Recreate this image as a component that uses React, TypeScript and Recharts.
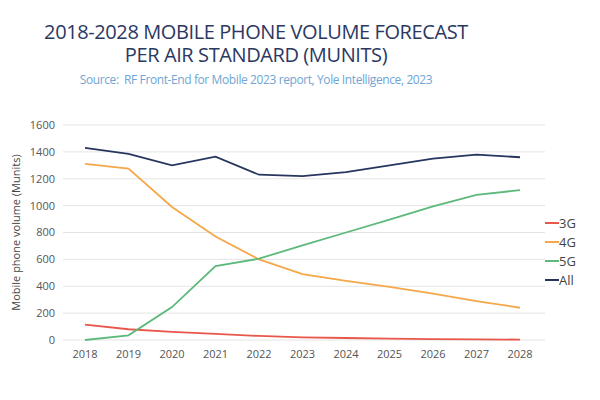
import { LineChart, Line, XAxis, YAxis, CartesianGrid, Legend } from "recharts";

const years = ["2018", "2019", "2020", "2021", "2022", "2023", "2024", "2025", "2026", "2027", "2028"];
const g3 = [115, 80, 60, 45, 30, 20, 15, 10, 7, 5, 3];
const g4 = [1310, 1275, 990, 770, 600, 490, 440, 395, 345, 290, 240];
const g5 = [0, 35, 245, 550, 605, 705, 800, 895, 995, 1080, 1115];
const all = [1430, 1385, 1300, 1365, 1230, 1220, 1250, 1300, 1350, 1380, 1360];
const yTicks = [0, 200, 400, 600, 800, 1000, 1200, 1400, 1600];

const series = [
    { key: "3G", color: "#e9574b" },
    { key: "4G", color: "#f5a74a" },
    { key: "5G", color: "#5cb97a" },
    { key: "All", color: "#27365f" },
];

const data = years.map((y, i) => ({ year: y, "3G": g3[i], "4G": g4[i], "5G": g5[i], All: all[i] }));

const font = "'Open Sans', sans-serif";

function LegendBox() {
    return (
        <div style={{ fontFamily: font, fontSize: 13, color: "#444" }}>
            {series.map((s) => (
                <div key={s.key} style={{ display: "flex", alignItems: "center", height: 19 }}>
                    <span style={{ display: "inline-block", width: 14, height: 2, background: s.color }} />
                    <span>{s.key}</span>
                </div>
            ))}
        </div>
    );
}

export default function App() {
    return (
        <div style={{ position: "absolute", left: 0, top: 0, width: 600, height: 400, background: "#fff", overflow: "hidden" }}>
            <div style={{ position: "absolute", top: 20, left: 0, width: 512, textAlign: "center", fontFamily: font, fontSize: 20, fontWeight: 400, letterSpacing: -0.4, lineHeight: "23px", color: "#2b3862" }}>
                <div>2018-2028 MOBILE PHONE VOLUME FORECAST</div>
                <div>PER AIR STANDARD (MUNITS)</div>
            </div>
            <div style={{ position: "absolute", top: 71, left: 0, width: 512, textAlign: "center", fontFamily: font, fontSize: 12, letterSpacing: -0.4, whiteSpace: "pre", color: "#6ea5d4" }}>
                {"Source:  RF Front-End for Mobile 2023 report, Yole Intelligence, 2023"}
            </div>
            <LineChart width={600} height={400} data={data} margin={{ top: 125, right: 10, bottom: 30, left: 18 }} style={{ position: "absolute", left: 0, top: 0 }}>
                <CartesianGrid vertical={false} stroke="#e4e4e4" />
                <XAxis dataKey="year" axisLine={false} tickLine={false} padding={{ left: 22, right: 25 }} height={30}
                    tick={{ fill: "#555", fontSize: 11, fontFamily: font }} tickMargin={4} />
                <YAxis domain={[0, 1600]} ticks={yTicks} axisLine={false} tickLine={false} width={45}
                    tick={{ fill: "#555", fontSize: 11, fontFamily: font }}
                    label={{ value: "Mobile phone volume (Munits)", angle: -90, position: "insideLeft", offset: 0, dx: -2, style: { fill: "#444", fontSize: 11, fontFamily: font, textAnchor: "middle" } }} />
                <Legend layout="vertical" align="right" verticalAlign="middle" content={<LegendBox />} wrapperStyle={{ top: 213, width: 45 }} />
                {series.map((s) => (
                    <Line key={s.key} type="linear" dataKey={s.key} stroke={s.color} strokeWidth={1.8} dot={false} isAnimationActive={false} />
                ))}
            </LineChart>
        </div>
    );
}
